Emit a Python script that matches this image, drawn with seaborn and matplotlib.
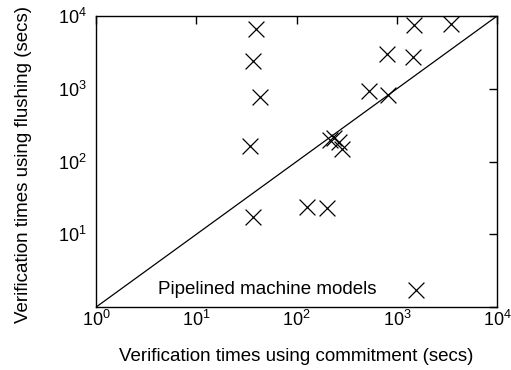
import matplotlib
matplotlib.use("Agg")
import matplotlib.pyplot as plt
import seaborn as sns
import pandas as pd
import numpy as np
from matplotlib.ticker import NullLocator, FuncFormatter

# Data (seconds)
commitment = [39, 37, 43, 34, 1490, 3480, 790, 1450, 525, 810,
              215, 235, 265, 285, 37, 126, 203, 1560]
flushing = [6600, 2400, 770, 162, 7600, 7750, 2970, 2760, 940, 815,
            195, 210, 185, 150, 17.4, 23.9, 23.2, 1.71]
diag = [1, 10000]
ticks = [1, 10, 100, 1000, 10000]

sns.set_theme(style="white")
plt.rcParams['font.family'] = ['Liberation Sans', 'DejaVu Sans']

fig, ax = plt.subplots(figsize=(5.11, 3.70), dpi=100)
fig.subplots_adjust(left=0.188, right=0.973, top=0.957, bottom=0.170)

df = pd.DataFrame({"commitment": commitment, "flushing": flushing})
dd = pd.DataFrame({"x": diag, "y": diag})

sns.lineplot(data=dd, x="x", y="y", ax=ax, color="black", linewidth=0.9)
sns.scatterplot(data=df, x="commitment", y="flushing", ax=ax, marker="x",
                color="black", s=130, linewidth=0.9)

ax.set_xscale("log")
ax.set_yscale("log")
ax.set_xlim(1, 10000)
ax.set_ylim(1, 10000)
ax.set_xticks(ticks)
ax.set_yticks(ticks)
ax.xaxis.set_minor_locator(NullLocator())
ax.yaxis.set_minor_locator(NullLocator())

def fmt(v, pos):
    e = int(round(np.log10(v)))
    return r"$\mathregular{10^{%d}}$" % e

def yfmt(v, pos):
    if v <= 1:
        return ""
    return fmt(v, pos)

ax.xaxis.set_major_formatter(FuncFormatter(fmt))
ax.yaxis.set_major_formatter(FuncFormatter(yfmt))

ax.tick_params(axis="both", which="major", direction="in", length=6, width=1,
               top=True, right=True, labelsize=13, colors="black")
ax.tick_params(axis="x", pad=2)
ax.tick_params(axis="y", pad=7)
for s in ax.spines.values():
    s.set_color("black")
    s.set_linewidth(1)

ax.set_xlabel("Verification times using commitment (secs)", fontsize=13.5, color="black")
ax.set_ylabel("Verification times using flushing (secs)", fontsize=13.5, color="black")
ax.xaxis.set_label_coords(0.5, -0.14)
ax.yaxis.set_label_coords(-0.16, 0.49)

ax.text(0.155, 0.062, "Pipelined machine models", transform=ax.transAxes,
        fontsize=13.5, color="black", ha="left", va="center")

fig.savefig("out.png", dpi=100)
